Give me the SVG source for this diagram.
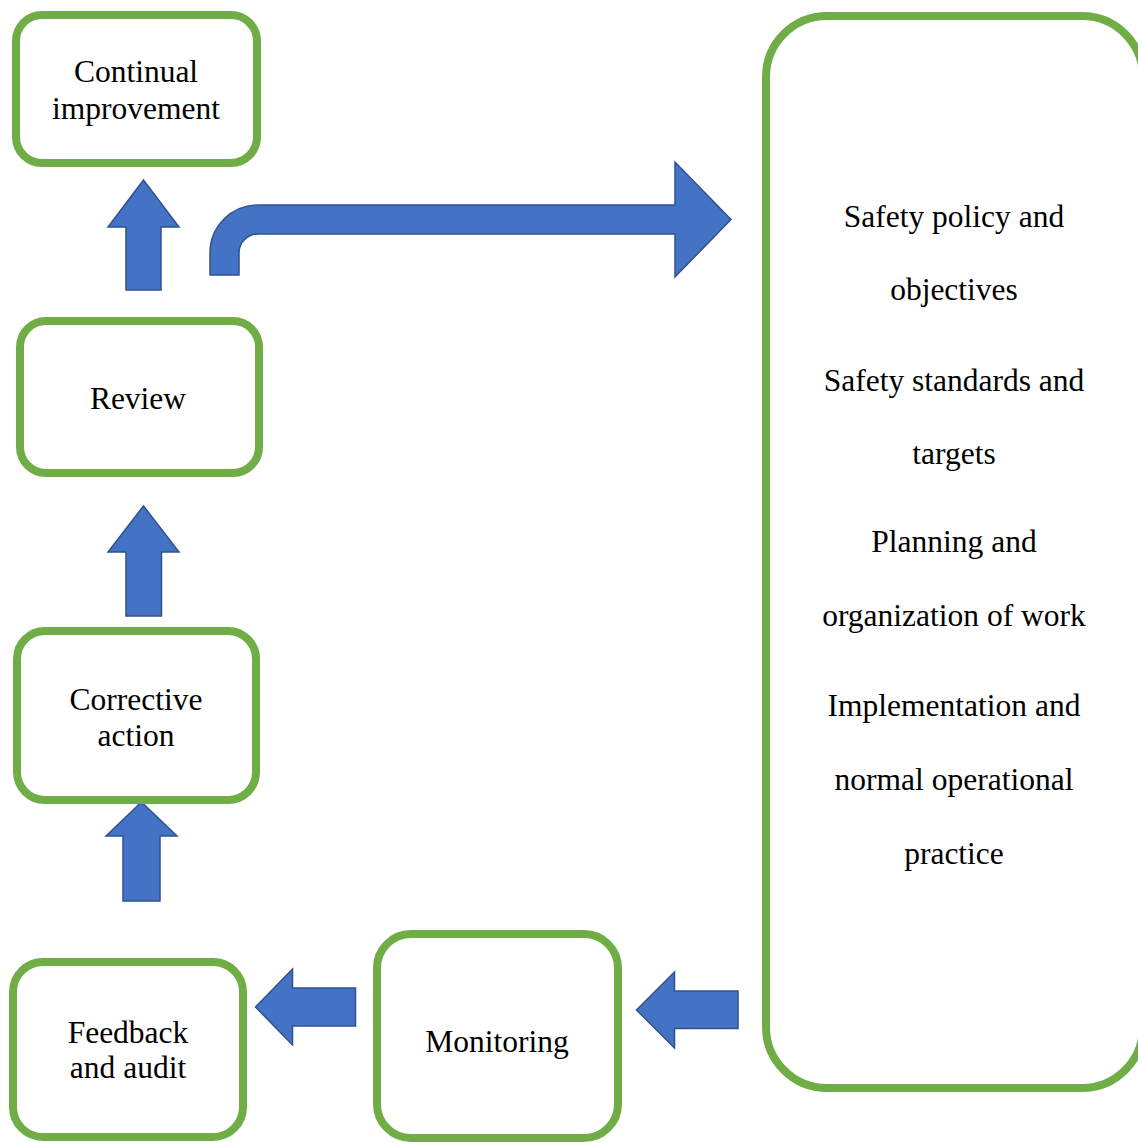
<svg xmlns="http://www.w3.org/2000/svg" width="1138" height="1142" viewBox="0 0 1138 1142">
<style>
.box{fill:#FFFFFF;stroke:#70AD47;stroke-width:8}
.arr{fill:#4472C4;stroke:#2F528F;stroke-width:1.5;stroke-linejoin:miter}
text{font-family:"Liberation Serif","Times New Roman",serif;font-size:31.5px;fill:#000000;text-anchor:middle}
</style>
<rect width="1138" height="1142" fill="#FFFFFF"/>
<g id="connectors">
<path class="arr" d="M126,290 L126,227 L108,227 L143.5,180 L179,227 L161,227 L161,290 Z"/>
<path class="arr" d="M126,616 L126,552 L108,552 L143.5,506 L179,552 L161.5,552 L161.5,616 Z"/>
<path class="arr" d="M123,901 L123,836 L106,836 L141.5,802 L177,836 L160,836 L160,901 Z"/>
<path class="arr" d="M210,275 L210,253 A48,48 0 0 1 258,205 L675,205 L675,162 L731,219.5 L675,277 L675,234 L258,234 A19,19 0 0 0 239,253 L239,275 Z"/>
<path class="arr" d="M355.5,988 L292.5,988 L292.5,969 L255.5,1007 L292.5,1045 L292.5,1026 L355.5,1026 Z"/>
<path class="arr" d="M738,991 L674.5,991 L674.5,972 L636.5,1010 L674.5,1048 L674.5,1028.5 L738,1028.5 Z"/>
</g>
<g id="node-continual">
<rect class="box" x="16" y="15" width="241" height="148" rx="26" ry="26"/>
<text x="136" y="82">Continual</text>
<text x="136" y="119">improvement</text>
</g>
<g id="node-review">
<rect class="box" x="20" y="321" width="239" height="152" rx="26" ry="26"/>
<text x="138" y="409">Review</text>
</g>
<g id="node-corrective">
<rect class="box" x="17" y="631" width="239" height="169" rx="28" ry="28"/>
<text x="136" y="710">Corrective</text>
<text x="136" y="746">action</text>
</g>
<g id="node-feedback">
<rect class="box" x="13" y="962" width="230" height="175" rx="30" ry="30"/>
<text x="128" y="1043">Feedback</text>
<text x="128" y="1078">and audit</text>
</g>
<g id="node-monitoring">
<rect class="box" x="377" y="934" width="241" height="204" rx="34" ry="34"/>
<text x="497" y="1052">Monitoring</text>
</g>
<g id="node-policy">
<rect class="box" x="766" y="16" width="377" height="1072" rx="61" ry="61"/>
<text x="954" y="227">Safety policy and</text>
<text x="954" y="300">objectives</text>
<text x="954" y="391">Safety standards and</text>
<text x="954" y="464">targets</text>
<text x="954" y="552">Planning and</text>
<text x="954" y="626">organization of work</text>
<text x="954" y="716">Implementation and</text>
<text x="954" y="790">normal operational</text>
<text x="954" y="864">practice</text>
</g>
</svg>
